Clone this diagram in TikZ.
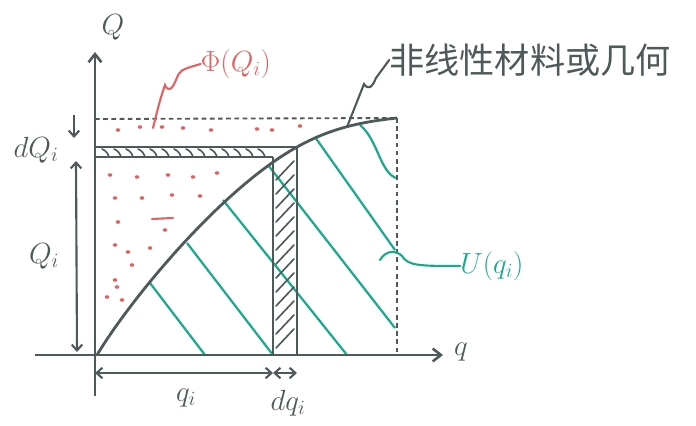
\documentclass[tikz,border=0pt]{standalone}
\usepackage{amsmath,amssymb}
\usepackage{fontspec}
\newfontfamily\cjk{Noto Sans CJK SC}
\usepackage{tikz}
\usetikzlibrary{arrows.meta,positioning}

\definecolor{ink}{HTML}{4E5959}
\definecolor{redpen}{HTML}{E06262}
\definecolor{greenpen}{HTML}{1BA98B}

\begin{document}
\begin{tikzpicture}[
    x=0.03cm, y=-0.03cm,
    axis/.style={draw=ink, line width=2.2pt, -{Straight Barb[length=7pt,width=11pt]}},
    dim/.style={draw=ink, line width=1.8pt, {Straight Barb[length=5pt,width=9pt]}-{Straight Barb[length=5pt,width=9pt]}},
    thin/.style={draw=ink, line width=1.8pt},
    guide/.style={draw=ink, line width=1.6pt, dash pattern=on 4pt off 3pt},
    hatch/.style={draw=ink, line width=1.4pt, line cap=round},
    ulines/.style={draw=greenpen, line width=1.9pt},
    dot/.style={fill=redpen, draw=none},
    lbl/.style={text=ink, font=\fontsize{27}{27}\selectfont, inner sep=0pt}
]
\useasboundingbox (0,0) rectangle (696,426);

% key points
\coordinate (O) at (95,355);
\coordinate (P) at (297,147);
\coordinate (E) at (397,118);

% Phi(Q_i) dots
\foreach \px/\py in {118/130,140/127,162/127,183/128,211/130,257/129,272/130,300/126,
                    110/175,137/177,168/175,193/177,217/173,115/198,142/198,172/195,200/196,
                    118/222,165/230,115/245,128/252,150/248,132/265,115/280,117/287,107/297,122/300}
  \fill[dot] (\px,\py) ellipse (2.3 and 1.8);
\draw[redpen, line width=1.8pt, line cap=round] (152,219) -- (173,218);

% U(q_i) lines
\draw[ulines] (150,283) -- (205,355);
\draw[ulines] (187,243) -- (273,355);
\draw[ulines] (223,200) -- (347,355);
\draw[ulines] (268,165) -- (395,328);
\draw[ulines] (315,137) -- (395,250);
\draw[ulines] (360,125) .. controls (378,140) and (380,172) .. (396,178);

% dashed bounds
\draw[guide] (95,119) -- (E);
\draw[guide] (E) -- (397,355);

% band dQ_i and strip dq_i
\draw[thin] (95,147) -- (P);
\draw[thin] (95,157) -- (273,157);
\draw[thin] (273,157) -- (273,355);
\draw[thin] (P) -- (297,355);
\foreach \hx in {102,114,...,264}
  \draw[hatch] (\hx,149) to[bend left=25] (\hx+7,157);
\foreach \hy in {170,184,...,342}
  \draw[hatch] (276,\hy+10) -- (294,\hy-9);

% curve
\draw[ink, line width=2.4pt] (97,355) .. controls (130,300) and (220,190) .. (P)
  .. controls (330,128.6) and (360,122) .. (E);

% axes
\draw[axis] (95,396) -- (95,52);
\draw[axis] (35,355) -- (443,355);

% dimension arrows
\draw[draw=ink, line width=1.8pt, -{Straight Barb[length=5pt,width=9pt]}] (74,115) -- (74,138);
\draw[dim] (76,161) -- (77,352);
\draw[dim] (95,373) -- (273,373);
\draw[dim] (273,373) -- (297,373);

% labels
\node[lbl, font=\fontsize{36}{36}\selectfont] (Qlab) at (113,27) {$Q$};
\node[lbl] (qlab) at (461,352) {$q$};
\node[lbl] (dQlab) at (36,150) {$dQ_i$};
\node[lbl] (Qilab) at (44,256) {$Q_i$};
\node[lbl] (qilab) at (186,398) {$q_i$};
\node[lbl] (dqlab) at (288,403) {$dq_i$};
\node[lbl, text=redpen] (Philab) at (236,64) {$\Phi(Q_i)$};
\node[lbl, text=greenpen] (Ulab) at (492,266) {$U(q_i)$};
\node[lbl, font=\cjk\fontsize{30}{30}\selectfont] (nlab) at (530,60) {非线性材料或几何};

% leaders
\draw[redpen, line width=1.8pt, line cap=round] (153,128) .. controls (160,100) .. (165,85)
  .. controls (168,92) and (172,90) .. (176,80) .. controls (180,70) .. (Philab.west);
\draw[ink, line width=1.8pt, line cap=round] (347,127) -- (364,84)
  .. controls (368,90) and (372,88) .. (376,78) -- (nlab.west);
\draw[greenpen, line width=1.8pt, line cap=round] (380,260) .. controls (386,250) and (396,250) .. (402,256)
  .. controls (408,266) and (420,266) .. (Ulab.west);
\end{tikzpicture}
\end{document}
